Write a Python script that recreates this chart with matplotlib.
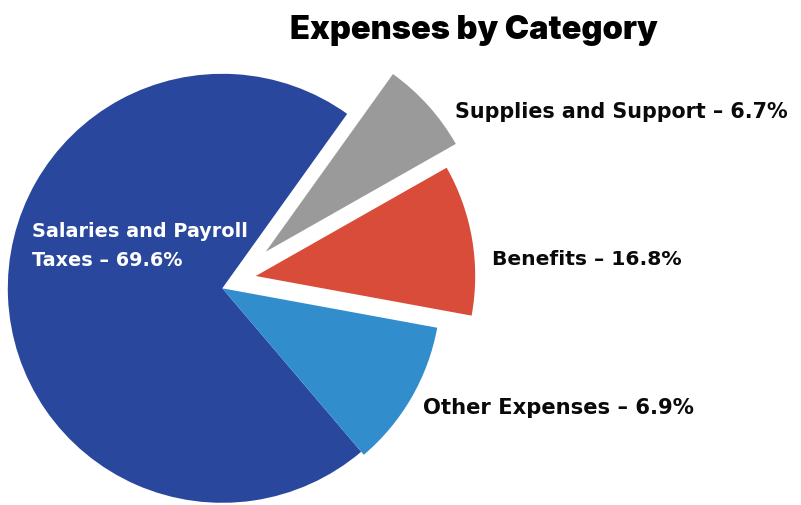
import matplotlib
matplotlib.use("Agg")
import matplotlib.pyplot as plt
import numpy as np

# ---- data ----
categories = ["Salaries and Payroll Taxes", "Other Expenses", "Benefits", "Supplies and Support"]
shares = [71.1, 10.9, 11.1, 6.9]          # wedge sizes as drawn
label_pct = ["69.6%", "6.9%", "16.8%", "6.7%"]  # percentages as printed
title = "Expenses by Category"

# ---- style / layout ----
colors = ["#29479D", "#318DCB", "#D94C39", "#9A9A9A"]
W, H = 801, 505
center = (222.3, H - 288.3)
radius = 218.5
radii = [214.5, 218.5, 219.5, 218.5]
# explode offsets (distance px, direction deg)
offsets = [(0, 0), (0, 0), (35.6, 20.2), (56.8, 40.1)]
startangle = 54.4

fig = plt.figure(figsize=(W / 100, H / 100), dpi=100)
ax = fig.add_axes([0, 0, 1, 1])
wedges, _ = ax.pie(shares, colors=colors, startangle=startangle, counterclock=True,
                   radius=radius, center=center, wedgeprops=dict(linewidth=0))
for w, r, (d, a) in zip(wedges, radii, offsets):
    w.set_radius(r)
    w.set_center((center[0] + d * np.cos(np.radians(a)),
                  center[1] + d * np.sin(np.radians(a))))
ax.set_xlim(0, W)
ax.set_ylim(0, H)
ax.set_aspect("equal")
ax.axis("off")

labels = [f"{c} – {p}" for c, p in zip(categories, label_pct)]
labels[0] = labels[0].replace(" Taxes", "\nTaxes")

fig.canvas.draw()
rend = fig.canvas.get_renderer()

def fit(t, width):
    bb = t.get_window_extent(renderer=rend)
    t.set_fontsize(t.get_fontsize() * width / bb.width)

lab_font = dict(family="DejaVu Sans", fontweight="bold")
# (x_left, baseline_y_from_top, target_width, colour)
placements = {
    1: (423.3, 414.0, 271.7, "#0a0a0a"),
    2: (491.7, 265.0, 190.0, "#0a0a0a"),
    3: (455.0, 118.3, 332.0, "#0a0a0a"),
}
for i, (x, yb, wd, col) in placements.items():
    t = ax.text(x, H - yb, labels[i], ha="left", va="baseline", color=col,
                fontsize=14, **lab_font)
    fit(t, wd)

sal_lines = labels[0].split("\n")
t1 = ax.text(32, H - 237, sal_lines[0], ha="left", va="baseline", color="white",
             fontsize=14, **lab_font)
fit(t1, 216)
ax.text(32, H - 266, sal_lines[1], ha="left", va="baseline", color="white",
        fontsize=t1.get_fontsize(), **lab_font)

tt = ax.text(473.5, H - 39.5, title, ha="center", va="baseline", color="black",
             fontsize=26, family="Inter", fontweight="black")
fit(tt, 368)

fig.savefig("out.png", dpi=100)
